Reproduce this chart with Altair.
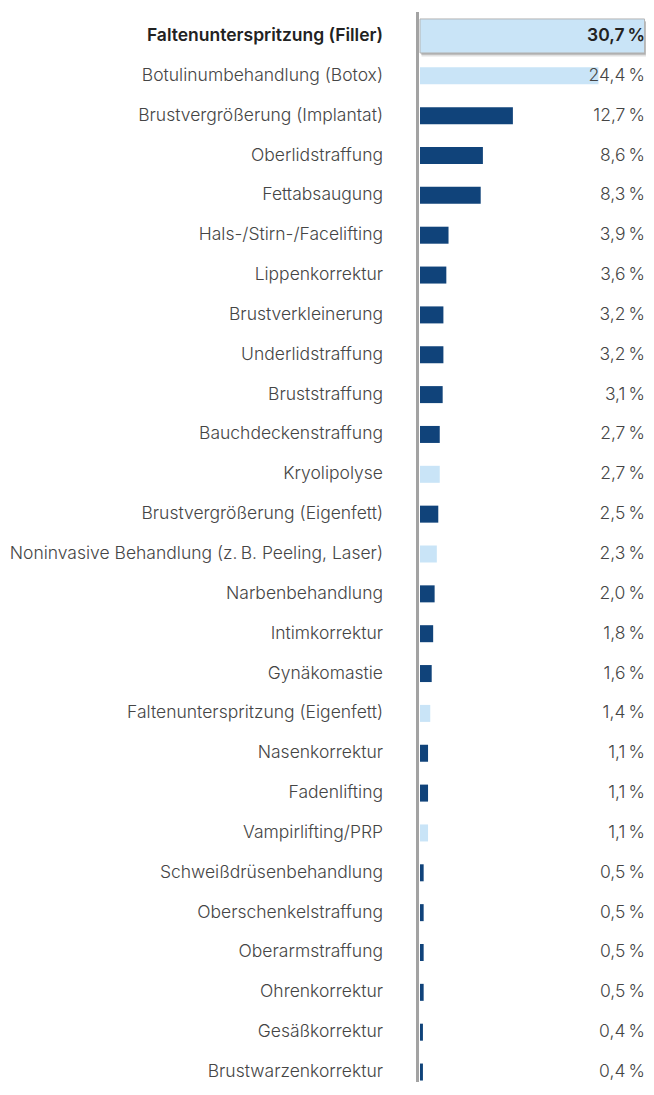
import altair as alt
import pandas as pd

categories = [
    "Faltenunterspritzung (Filler)",
    "Botulinumbehandlung (Botox)",
    "Brustvergrößerung (Implantat)",
    "Oberlidstraffung",
    "Fettabsaugung",
    "Hals-/Stirn-/Facelifting",
    "Lippenkorrektur",
    "Brustverkleinerung",
    "Underlidstraffung",
    "Bruststraffung",
    "Bauchdeckenstraffung",
    "Kryolipolyse",
    "Brustvergrößerung (Eigenfett)",
    "Noninvasive Behandlung (z.\u2009B. Peeling, Laser)",
    "Narbenbehandlung",
    "Intimkorrektur",
    "Gynäkomastie",
    "Faltenunterspritzung (Eigenfett)",
    "Nasenkorrektur",
    "Fadenlifting",
    "Vampirlifting/PRP",
    "Schweißdrüsenbehandlung",
    "Oberschenkelstraffung",
    "Oberarmstraffung",
    "Ohrenkorrektur",
    "Gesäßkorrektur",
    "Brustwarzenkorrektur",
]
values = [30.7, 24.4, 12.7, 8.6, 8.3, 3.9, 3.6, 3.2, 3.2, 3.1, 2.7, 2.7, 2.5, 2.3,
          2.0, 1.8, 1.6, 1.4, 1.1, 1.1, 1.1, 0.5, 0.5, 0.5, 0.5, 0.4, 0.4]
kinds = ["nicht-operativ", "nicht-operativ", "operativ", "operativ", "operativ",
         "operativ", "operativ", "operativ", "operativ", "operativ", "operativ",
         "nicht-operativ", "operativ", "nicht-operativ", "operativ", "operativ",
         "operativ", "nicht-operativ", "operativ", "operativ", "nicht-operativ",
         "operativ", "operativ", "operativ", "operativ", "operativ", "operativ"]

df = pd.DataFrame({
    "cat": categories,
    "val": values,
    "kind": kinds,
    "rank": list(range(len(categories))),
})
df["label"] = df["val"].map(lambda v: f"{v:.1f}".replace(".", ",") + "\u2009%")

DARK = "#10437a"
LIGHT = "#c9e4f7"
FONT = "Inter"
FS = 17.5

W, H = 226, 1056

y = alt.Y("cat:N", sort=categories, axis=None,
          scale=alt.Scale(type="point", padding=0.25))
x = alt.X("val:Q", axis=None, scale=alt.Scale(domain=[0, 30.9], nice=False, zero=True))

base = alt.Chart(df)

axis_line = base.mark_rule(color="#a3a3a3", strokeWidth=3).encode(
    x=alt.value(-2.5), y=alt.value(-14), y2=alt.value(H + 10)
).transform_filter("datum.rank == 0")

top = base.transform_filter("datum.rank == 0")
rest = base.transform_filter("datum.rank > 0")

shadows = [
    top.mark_bar(height=36, color="#000000", opacity=0.06, xOffset=1.5, yOffset=3).encode(x=x, y=y),
    top.mark_bar(height=34, color="#000000", opacity=0.12, xOffset=1.5, yOffset=2.5).encode(x=x, y=y),
    top.mark_bar(height=33, color="#000000", opacity=0.18, xOffset=1, yOffset=2).encode(x=x, y=y),
]

bars = rest.mark_bar(height=17).encode(
    x=x, y=y,
    color=alt.Color("kind:N", legend=None,
                    scale=alt.Scale(domain=["operativ", "nicht-operativ"], range=[DARK, LIGHT])),
)

top_bar = top.mark_bar(height=34, color=LIGHT, stroke="#b5b5b5", strokeWidth=1).encode(x=x, y=y)

cat_rest = rest.mark_text(align="right", baseline="middle", font=FONT, fontSize=FS,
                          fontWeight=300, color="#454545").encode(
    x=alt.value(-37), y=y, text="cat:N")
cat_top = top.mark_text(align="right", baseline="middle", font=FONT, fontSize=FS,
                        fontWeight=600, color="#222222").encode(
    x=alt.value(-37), y=y, text="cat:N")

val_rest = rest.mark_text(align="right", baseline="middle", font=FONT, fontSize=FS,
                          fontWeight=300, color="#454545").encode(
    x=alt.value(225), y=y, text="label:N")
val_top = top.mark_text(align="right", baseline="middle", font=FONT, fontSize=FS,
                        fontWeight=600, color="#222222").encode(
    x=alt.value(225), y=y, text="label:N")

chart = alt.layer(axis_line, *shadows, bars, top_bar, cat_rest, cat_top, val_rest, val_top).properties(
    width=W, height=H,
    autosize=alt.AutoSizeParams(type="none"),
    padding={"left": 412, "top": 18, "right": 0, "bottom": 0},
).configure_view(stroke=None)

chart.save("out.html", embed_options={"renderer": "svg", "actions": False})
